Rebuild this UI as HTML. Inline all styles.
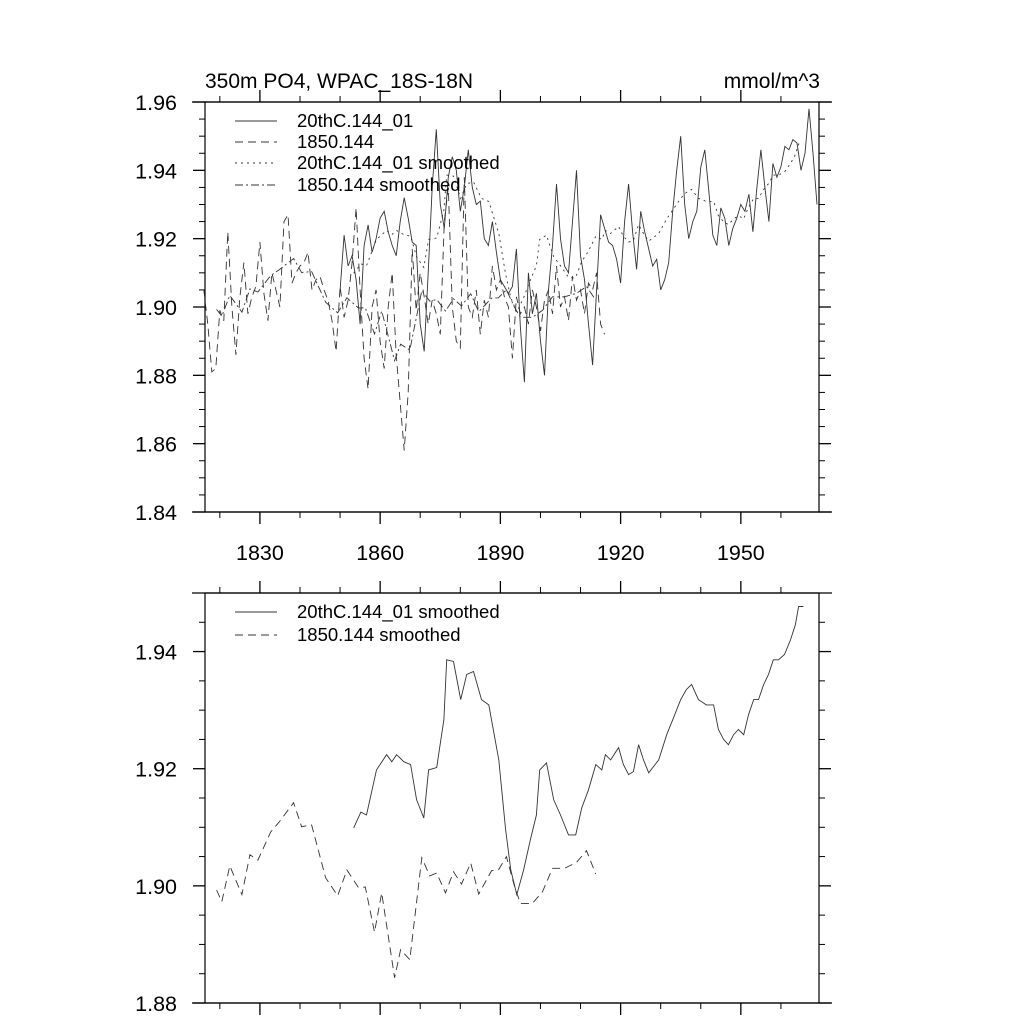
<!DOCTYPE html>
<html><head><meta charset="utf-8">
<style>
html,body{margin:0;padding:0;background:#fff;}
svg{display:block;font-family:"Liberation Sans",sans-serif;}
</style></head>
<body>
<svg id="chart" width="1024" height="1024" viewBox="0 0 1024 1024" xmlns="http://www.w3.org/2000/svg">
<text x="205" y="88" font-size="21">350m PO4, WPAC_18S-18N</text>
<text x="820" y="88" font-size="21" text-anchor="end">mmol/m^3</text>
<g id="top"></g>
<g id="bot"></g>
</svg>
<script>
// ---- data ----
const rawYears20 = [];
for (let y = 1850; y <= 1969; y++) rawYears20.push(y);
const raw20 = [1.905,1.921,1.912,1.915,1.908,1.895,1.918,1.924,1.916,1.920,
1.926,1.928,1.922,1.918,1.915,1.925,1.932,1.926,1.919,1.918,
1.895,1.887,1.910,1.935,1.952,1.930,1.923,1.938,1.944,1.940,
1.928,1.935,1.946,1.935,1.930,1.931,1.920,1.918,1.925,1.916,
1.908,1.906,1.904,1.906,1.917,1.894,1.878,1.910,1.898,1.904,
1.890,1.880,1.905,1.918,1.936,1.920,1.912,1.910,1.925,1.940,
1.915,1.908,1.895,1.883,1.905,1.927,1.923,1.919,1.918,1.914,
1.907,1.925,1.936,1.922,1.911,1.928,1.922,1.917,1.912,1.914,
1.905,1.908,1.913,1.928,1.940,1.950,1.930,1.920,1.925,1.928,
1.941,1.946,1.934,1.921,1.918,1.929,1.926,1.918,1.923,1.926,
1.930,1.928,1.933,1.922,1.935,1.946,1.935,1.925,1.942,1.938,
1.941,1.947,1.946,1.949,1.948,1.940,1.945,1.958,1.945,1.930];
const rawYears1850 = [];
for (let y = 1816; y <= 1916; y++) rawYears1850.push(y);
const raw1850 = [1.905,1.895,1.881,1.882,1.899,1.896,1.922,1.900,1.886,1.903,
1.913,1.898,1.903,1.906,1.919,1.904,1.896,1.910,1.905,1.900,
1.925,1.927,1.907,1.910,1.912,1.913,1.916,1.905,1.908,1.909,
1.905,1.902,1.896,1.887,1.906,1.897,1.902,1.913,1.929,1.905,
1.885,1.876,1.900,1.905,1.890,1.882,1.900,1.910,1.886,1.872,
1.858,1.875,1.917,1.899,1.910,1.903,1.895,1.902,1.898,1.892,
1.925,1.935,1.900,1.890,1.888,1.938,1.900,1.897,1.905,1.892,
1.902,1.897,1.912,1.905,1.908,1.903,1.900,1.885,1.903,1.898,
1.900,1.895,1.905,1.900,1.893,1.902,1.905,1.898,1.912,1.900,
1.903,1.896,1.909,1.902,1.905,1.898,1.907,1.905,1.910,1.895,1.892];
const smYears20 = [1853.4,1855.2,1856.6,1859.1,1861.6,1862.9,1864.1,1865.9,1867.6,1869.1,1870.9,1872.1,1874.1,1875.9,1876.6,1878.3,1880.1,1881.6,1883.3,1885.3,1887.1,1889.6,1891.3,1892.6,1894.1,1895.8,1897.5,1899.0,1899.8,1901.5,1903.3,1905.0,1907.0,1908.8,1910.3,1912.0,1913.8,1915.3,1916.2,1917.5,1919.5,1920.7,1922.0,1923.2,1924.5,1925.7,1927.0,1929.5,1931.5,1933.2,1935.0,1936.4,1937.7,1939.4,1941.4,1943.2,1944.4,1945.7,1946.9,1948.2,1949.4,1950.7,1951.9,1953.2,1954.4,1955.7,1956.9,1958.1,1959.4,1960.9,1962.4,1963.6,1964.4,1965.6];
const sm20 = [1.9099,1.9126,1.9121,1.9198,1.9224,1.9212,1.9224,1.9212,1.9207,1.9147,1.9116,1.9198,1.9202,1.9284,1.9386,1.9383,1.9318,1.9361,1.9366,1.9318,1.9309,1.9215,1.9096,1.9027,1.8985,1.9027,1.9079,1.9121,1.9198,1.9210,1.9147,1.9121,1.9087,1.9087,1.9133,1.9164,1.9207,1.9198,1.9224,1.9215,1.9236,1.9207,1.9190,1.9195,1.9241,1.9215,1.9193,1.9215,1.9258,1.9287,1.9318,1.9335,1.9344,1.9318,1.9309,1.9309,1.9267,1.9250,1.9241,1.9258,1.9267,1.9258,1.9292,1.9318,1.9318,1.9344,1.9361,1.9386,1.9386,1.9395,1.9420,1.9446,1.9477,1.9477,1.9455];
const smYears1850 = [1819.2,1820.5,1822.5,1825.5,1827.5,1829.5,1832.7,1834.7,1838.4,1840.4,1842.9,1846.4,1849.4,1851.7,1854.6,1856.3,1858.6,1860.4,1863.6,1865.1,1867.4,1870.4,1872.4,1874.1,1876.3,1878.3,1880.3,1882.6,1884.6,1887.8,1889.5,1891.5,1893.5,1895.0,1898.0,1900.5,1903.0,1906.0,1909.0,1911.5,1913.8];
const sm1850 = [1.8993,1.8973,1.9034,1.8985,1.9053,1.9044,1.9092,1.9108,1.9142,1.9101,1.9104,1.9014,1.8983,1.9027,1.8997,1.8998,1.8921,1.8988,1.8843,1.8891,1.8874,1.9048,1.9017,1.9022,1.8988,1.9024,1.9003,1.9039,1.8986,1.9026,1.9027,1.9050,1.9000,1.8970,1.8970,1.8990,1.9030,1.9030,1.9040,1.9060,1.9020];
const xTickLabels = [1830,1860,1890,1920,1950];
const topYTicks = [1.84,1.86,1.88,1.90,1.92,1.94,1.96];
const botYTicks = [1.88,1.90,1.92,1.94];

// ---- drawing ----
const NS = "http://www.w3.org/2000/svg";
const X0 = 205, X1 = 819, YR0 = 1816.3, YR1 = 1969.5;
function xs(yr){ return X0 + (yr - YR0) / (YR1 - YR0) * (X1 - X0); }
function mk(tag, attrs, parent){ const e = document.createElementNS(NS, tag); for (const k in attrs) e.setAttribute(k, attrs[k]); parent.appendChild(e); return e; }
const COL = "#333";

function panel(g, top, bot, vmin, vmax, yticks, prefix){
  const ys = v => bot - (v - vmin) / (vmax - vmin) * (bot - top);
  const frame = mk("rect", {x:X0, y:top, width:X1-X0, height:bot-top, fill:"none", stroke:"#000", "stroke-width":1.2}, g);
  
  
  const ab = mk("line", {x1:X0-13, y1:bot, x2:X1+13, y2:bot, stroke:"#000", "stroke-width":1.2}, g);
  
  
  const at = mk("line", {x1:X0-13, y1:top, x2:X1+13, y2:top, stroke:"#000", "stroke-width":1.2}, g);
  
  
  for (let yr = 1820; yr <= 1960; yr += 10) {
    const x = xs(yr); const major = (yr - 1830) % 30 === 0; const L = major ? 12 : 6;
    const t1 = mk("line", {x1:x, y1:bot, x2:x, y2:bot+L, stroke:"#000", "stroke-width":major?1.3:1}, g);
    
    
    const t2 = mk("line", {x1:x, y1:top, x2:x, y2:top-L, stroke:"#000", "stroke-width":major?1.3:1}, g);
    
    
  }
  for (let v = vmin; v <= vmax + 1e-9; v += 0.005) {
    const y = ys(v); const major = Math.abs(Math.round(v*100) - v*100) < 1e-6 && Math.round(v*100) % 2 === 0; const L = major ? 12 : 6;
    const a = mk("line", {x1:X0, y1:y, x2:X0-L, y2:y, stroke:"#000", "stroke-width":major?1.3:1}, g);
    
    
    const b = mk("line", {x1:X1, y1:y, x2:X1+L, y2:y, stroke:"#000", "stroke-width":major?1.3:1}, g);
    
    
  }
  yticks.forEach(v => {
    const t = mk("text", {x:177, y:ys(v)+8, "font-size":21.5, "text-anchor":"end"}, g);
    t.textContent = v.toFixed(2);
    
    
  });
  return ys;
}
function series(g, xsArr, vals, ys, dash, name){
  const d = vals.map((v,i) => (i?"L":"M") + xs(xsArr[i]).toFixed(1) + "," + ys(v).toFixed(1)).join(" ");
  const p = mk("path", {d:d, fill:"none", stroke:COL, "stroke-width":0.9, "stroke-dasharray":dash}, g);
  
  
}
function legend(g, y, dash, label, name){
  const l = mk("line", {x1:235, y1:y, x2:277, y2:y, stroke:COL, "stroke-width":0.9, "stroke-dasharray":dash}, g);
  
  
  const t = mk("text", {x:297, y:y+6, "font-size":18.5}, g);
  t.textContent = label;
  
  
}

const gt = document.getElementById("top");
const ysT = panel(gt, 102, 512, 1.84, 1.96, topYTicks, "top");
xTickLabels.forEach(yr => {
  const t = mk("text", {x:xs(yr), y:560, "font-size":21.5, "text-anchor":"middle"}, gt);
  t.textContent = yr;
  
  
});
series(gt, rawYears20, raw20, ysT, "none", "line-20thc-raw");
series(gt, rawYears1850, raw1850, ysT, "8,5", "line-1850-raw");
series(gt, smYears20, sm20, ysT, "2,4", "line-20thc-smoothed");
series(gt, smYears1850, sm1850, ysT, "8,3,2,3", "line-1850-smoothed");
legend(gt, 121, "none", "20thC.144_01", "legend-entry-20thc");
legend(gt, 142, "8,5", "1850.144", "legend-entry-1850");
legend(gt, 163, "2,4", "20thC.144_01 smoothed", "legend-entry-20thc-smoothed");
legend(gt, 185, "8,3,2,3", "1850.144 smoothed", "legend-entry-1850-smoothed");

const gb = document.getElementById("bot");
const ysB = panel(gb, 593, 1003, 1.88, 1.95, botYTicks, "bottom");
series(gb, smYears20, sm20, ysB, "none", "bottom-line-20thc-smoothed");
series(gb, smYears1850, sm1850, ysB, "8,5", "bottom-line-1850-smoothed");
legend(gb, 612, "none", "20thC.144_01 smoothed", "bottom-legend-20thc-smoothed");
legend(gb, 635, "8,5", "1850.144 smoothed", "bottom-legend-1850-smoothed");
</script>
</body></html>
